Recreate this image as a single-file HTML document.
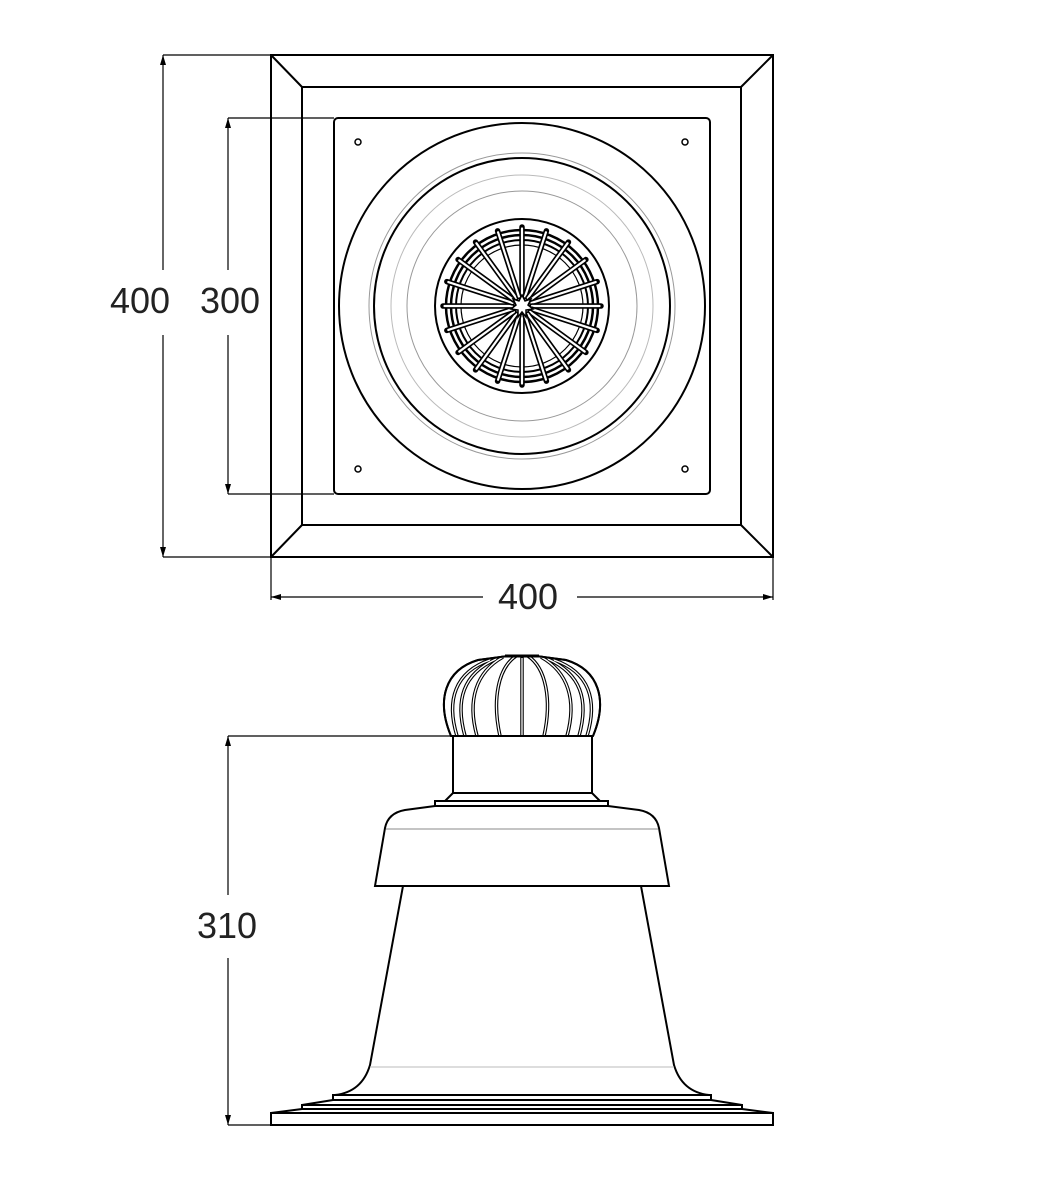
<!DOCTYPE html><html><head><style>body{margin:0;background:#fff}svg{display:block}</style></head><body>
<svg width="1040" height="1182" viewBox="0 0 1040 1182" xmlns="http://www.w3.org/2000/svg" font-family="Liberation Sans, sans-serif">
<defs>
<g id="sp" stroke-linecap="round">
<line x1="522" y1="296" x2="522" y2="227" stroke="#000" stroke-width="5.5"/><line x1="522" y1="316" x2="522" y2="385" stroke="#000" stroke-width="5.5"/>
<line x1="522" y1="296" x2="522" y2="228.5" stroke="#fff" stroke-width="2.2"/><line x1="522" y1="316" x2="522" y2="383.5" stroke="#fff" stroke-width="2.2"/>
</g>
</defs>
<g fill="none" stroke="#000" stroke-width="2">
<rect x="271" y="55" width="502" height="502"/>
<rect x="302" y="87" width="439" height="438"/>
<line x1="271" y1="55" x2="302" y2="87"/><line x1="773" y1="55" x2="741" y2="87"/>
<line x1="271" y1="557" x2="302" y2="525"/><line x1="773" y1="557" x2="741" y2="525"/>
<rect x="334" y="118" width="376" height="376" rx="4"/>
<line x1="302" y1="118" x2="334" y2="118" stroke-width="1"/><line x1="302" y1="494" x2="334" y2="494" stroke-width="1"/>
<circle cx="522" cy="306" r="183"/>
<circle cx="522" cy="306" r="148"/>
<circle cx="522" cy="306" r="153" stroke="#999" stroke-width="1"/>
<circle cx="522" cy="306" r="115" stroke="#999" stroke-width="1"/>
<circle cx="522" cy="306" r="131" stroke="#bbb" stroke-width="1"/>
<circle cx="522" cy="306" r="87"/>
<circle cx="522" cy="306" r="76" stroke-width="2.5"/><circle cx="522" cy="306" r="71" stroke-width="2.5"/><circle cx="522" cy="306" r="66" stroke-width="2"/><circle cx="522" cy="306" r="61" stroke-width="1.2"/>
<use href="#sp"/>
<g transform="rotate(18 522 306)"><use href="#sp"/></g><g transform="rotate(36 522 306)"><use href="#sp"/></g><g transform="rotate(54 522 306)"><use href="#sp"/></g><g transform="rotate(72 522 306)"><use href="#sp"/></g><g transform="rotate(90 522 306)"><use href="#sp"/></g><g transform="rotate(108 522 306)"><use href="#sp"/></g><g transform="rotate(126 522 306)"><use href="#sp"/></g><g transform="rotate(144 522 306)"><use href="#sp"/></g><g transform="rotate(162 522 306)"><use href="#sp"/></g>
<path d="M522 295 l3 6 6 -2 -3 6 5 4 -7 1 0 7 -4 -5 -4 5 0-7 -7-1 5-4 -3-6 6 2z" fill="#fff" stroke-width="1.5"/>
<g stroke-width="1.5"><circle cx="358" cy="142" r="3"/><circle cx="685" cy="142" r="3"/><circle cx="358" cy="469" r="3"/><circle cx="685" cy="469" r="3"/></g>
<g stroke-width="1.2">
<line x1="163" y1="55" x2="271" y2="55"/><line x1="163" y1="557" x2="271" y2="557"/>
<line x1="163" y1="55" x2="163" y2="270"/><line x1="163" y1="335" x2="163" y2="557"/>
<line x1="228" y1="118" x2="334" y2="118"/><line x1="228" y1="494" x2="334" y2="494"/>
<line x1="228" y1="118" x2="228" y2="270"/><line x1="228" y1="335" x2="228" y2="494"/>
<line x1="271" y1="557" x2="271" y2="600"/><line x1="773" y1="557" x2="773" y2="600"/>
<line x1="271" y1="597" x2="483" y2="597"/><line x1="577" y1="597" x2="773" y2="597"/>
<line x1="228" y1="736" x2="453" y2="736"/><line x1="228" y1="1125" x2="271" y2="1125"/>
<line x1="228" y1="736" x2="228" y2="895"/><line x1="228" y1="958" x2="228" y2="1125"/>
</g>
<g fill="#000" stroke="none">
<path d="M163 55l-3 10h6z"/><path d="M163 557l-3-10h6z"/>
<path d="M228 118l-3 10h6z"/><path d="M228 494l-3-10h6z"/>
<path d="M271 597l10-3v6z"/><path d="M773 597l-10-3v6z"/>
<path d="M228 736l-3 10h6z"/><path d="M228 1125l-3-10h6z"/>
</g>
<path d="M451 736 C436 700 445 670 478 660 L508 656 L536 656 L566 660 C599 670 608 700 593 736 Z" fill="#fff"/>
<g stroke="#000" stroke-width="3.5">
<path d="M457 736 C446 700 455 672 490 660"/><path d="M587 736 C598 700 589 672 554 660"/>
<path d="M465 736 C455 700 463 674 496 659"/><path d="M579 736 C589 700 581 674 548 659"/>
<path d="M477 736 C467 700 476 672 503 657"/><path d="M567 736 C577 700 568 672 541 657"/>
<path d="M500 736 C492 700 498 668 516 656"/><path d="M544 736 C552 700 546 668 528 656"/>
<line x1="522" y1="656" x2="522" y2="736"/>
</g>
<g stroke="#fff" stroke-width="1.3">
<path d="M457 736 C446 700 455 672 490 660"/><path d="M587 736 C598 700 589 672 554 660"/>
<path d="M465 736 C455 700 463 674 496 659"/><path d="M579 736 C589 700 581 674 548 659"/>
<path d="M477 736 C467 700 476 672 503 657"/><path d="M567 736 C577 700 568 672 541 657"/>
<path d="M500 736 C492 700 498 668 516 656"/><path d="M544 736 C552 700 546 668 528 656"/>
<line x1="522" y1="658" x2="522" y2="735"/>
</g>
<path d="M451 736 C436 700 445 670 478 660 L508 656 L536 656 L566 660 C599 670 608 700 593 736"/>
<line x1="505" y1="656" x2="539" y2="656" stroke-width="3"/>
<rect x="453" y="736" width="139" height="57" fill="#fff"/>
<path d="M453 793 L445 801 L600 801 L592 793 Z" fill="#fff"/>
<rect x="435" y="801" width="173" height="5" fill="#fff"/>
<path d="M435 806 L405 810 Q388 813 385 828 L375 886 L669 886 L659 828 Q656 813 639 810 L608 806 Z" fill="#fff"/>
<line x1="386" y1="829" x2="658" y2="829" stroke="#888" stroke-width="1"/>
<path d="M403 886 L370 1065 Q362 1092 335 1095 L709 1095 Q682 1092 674 1065 L641 886"/>
<line x1="370" y1="1067" x2="674" y2="1067" stroke="#bbb" stroke-width="1"/>
<rect x="333" y="1095" width="378" height="5" fill="#fff"/>
<path d="M333 1100 L302 1105 L742 1105 L711 1100"/>
<rect x="302" y="1105" width="440" height="4" fill="#fff"/>
<path d="M302 1109 L271 1113 L773 1113 L742 1109"/>
<rect x="271" y="1113" width="502" height="12" fill="#fff"/>
</g>
<g font-size="36" fill="#222" text-anchor="middle">
<text x="140" y="313">400</text><text x="230" y="313">300</text>
<text x="528" y="609">400</text><text x="227" y="938">310</text>
</g>
</svg></body></html>
